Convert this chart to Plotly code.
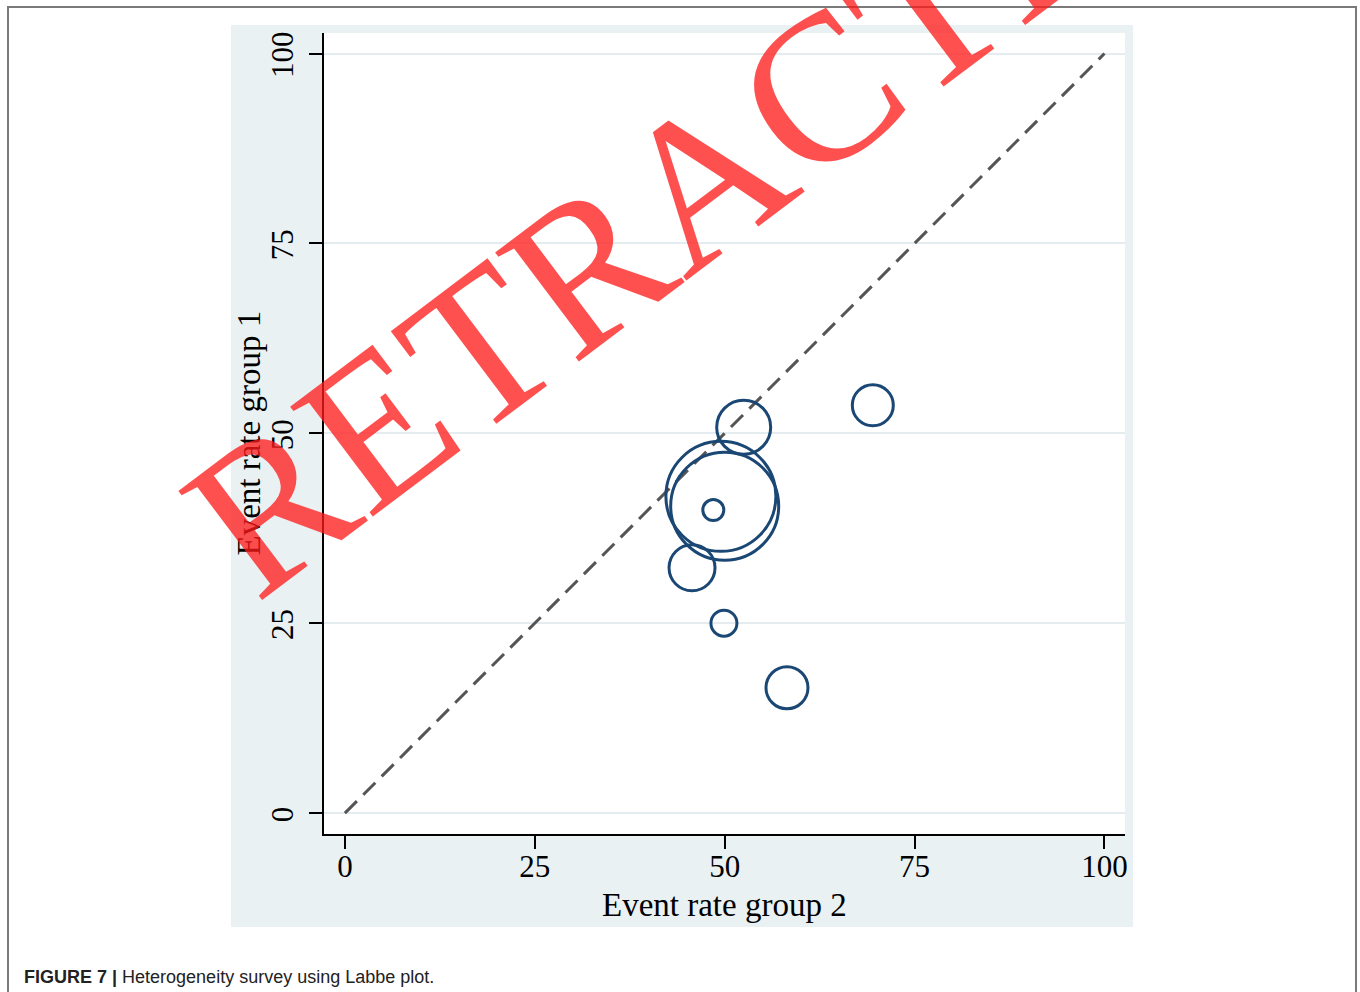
import plotly.graph_objects as go

# ---- data ----
rate_group2 = [69.5, 52.5, 49.5, 50.0, 48.5, 45.7, 49.9, 58.2]   # x: event rate group 2 (%)
rate_group1 = [53.7, 50.8, 41.7, 40.4, 39.9, 32.3, 25.0, 16.5]   # y: event rate group 1 (%)
study_weight = [41, 54, 110, 108, 21, 46, 26, 42]                # bubble size ~ study weight
diag = [0, 100]                                                  # line of equality
tick_vals = [0, 25, 50, 75, 100]
tick_text = ["0", "25", "50", "75", "100"]

W, H = 1360, 992
def px(x):
    return x / W
def py(y):
    return 1 - y / H

SERIF = "Liberation Serif, Times New Roman, serif"
NAVY = "#1A4773"

fig = go.Figure()

fig.add_trace(go.Scatter(
    x=diag, y=diag, mode="lines",
    line=dict(color="#555555", width=3, dash="17px,9px"),
    hoverinfo="skip", showlegend=False,
))

fig.add_trace(go.Scatter(
    x=rate_group2, y=rate_group1, mode="markers",
    marker=dict(symbol="circle-open", size=study_weight, color=NAVY, opacity=1,
                line=dict(width=3, color=NAVY)),
    showlegend=False,
))

axis_common = dict(
    range=[-2.75, 102.7], tickvals=tick_vals, ticktext=tick_text,
    showline=True, linecolor="black", linewidth=2,
    ticks="outside", ticklen=13, tickwidth=2, tickcolor="black",
    tickfont=dict(family=SERIF, size=31, color="black"),
    zeroline=False, fixedrange=True, automargin=False,
)

fig.update_xaxes(**axis_common, domain=[px(324), px(1125)], showgrid=False,
                 ticklabelstandoff=-9)
fig.update_yaxes(**axis_common, domain=[py(834), py(33)], showgrid=True,
                 gridcolor="#E4ECEF", gridwidth=2, tickangle=-90,
                 ticklabelstandoff=4, ticklabelshift=6)

fig.update_layout(
    width=W, height=H,
    margin=dict(l=0, r=0, t=0, b=0, pad=0, autoexpand=False),
    paper_bgcolor="white", plot_bgcolor="white",
    shapes=[
        # Stata-like graph region band
        dict(type="rect", xref="paper", yref="paper", layer="below",
             x0=px(231), x1=px(1133), y0=py(927), y1=py(25),
             fillcolor="#EAF1F3", line=dict(width=0)),
        # white plot region
        dict(type="rect", xref="paper", yref="paper", layer="below",
             x0=px(324), x1=px(1125), y0=py(834), y1=py(33),
             fillcolor="white", line=dict(width=0)),
        # outer figure frame (open at the bottom)
        dict(type="rect", xref="paper", yref="paper", layer="above",
             x0=px(8), x1=px(1356), y0=py(1010), y1=py(7),
             fillcolor="rgba(0,0,0,0)", line=dict(color="#7A7A7A", width=2)),
    ],
    annotations=[
        dict(text="Event rate group 2", xref="paper", yref="paper",
             x=px(724.5), y=py(905), xanchor="center", yanchor="middle",
             showarrow=False, font=dict(family=SERIF, size=33, color="black")),
        dict(text="Event rate group 1", xref="paper", yref="paper",
             x=px(248), y=py(433.5), xanchor="center", yanchor="middle",
             textangle=-90, showarrow=False,
             font=dict(family=SERIF, size=33, color="black")),
        dict(text="<b>FIGURE 7 |</b> Heterogeneity survey using Labbe plot.",
             xref="paper", yref="paper", x=px(22), y=py(977),
             xanchor="left", yanchor="middle", showarrow=False,
             font=dict(family="Liberation Sans, Arial, sans-serif", size=18, color="#222222")),
        dict(text="RETRACTED", xref="paper", yref="paper",
             x=px(707), y=py(176), xanchor="center", yanchor="middle",
             textangle=-37, showarrow=False,
             font=dict(family=SERIF, size=210, color="rgba(255,25,25,0.76)")),
    ],
)

fig.write_html("out.html")
